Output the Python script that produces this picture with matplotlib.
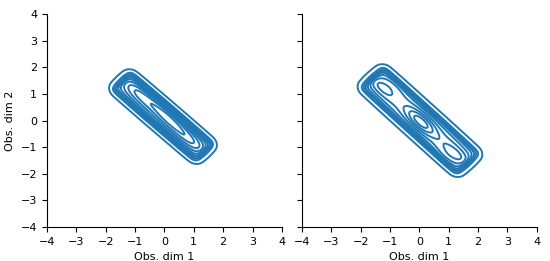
import numpy as np
import matplotlib.pyplot as plt

# shape of each density (data units)
centers = [(-0.05, 0.15), (0.02, 0.0)]
long_ends = [((-1.6, 1.62), (1.5, -1.32)), ((-1.72, 1.78), (1.8, -1.72))]
half_widths = [0.62, 0.72]
# inner bumps: (x, y, height)
bumps_left = [(-0.9, 1.05, 0.3), (-0.2, 0.45, 0.25), (0.3, -0.1, 0.3), (0.9, -0.75, 0.3)]
bumps_right = [(0.05, -0.05, 0.55), (-1.35, 1.3, 0.35), (-0.9, 1.45, 0.25),
               (1.3, -1.3, 0.35), (0.9, -1.45, 0.25)]
bumps = [bumps_left, bumps_right]

ticks = [-4, -3, -2, -1, 0, 1, 2, 3, 4]
color = "#1f77b4"


def density(X, Y, center, ends, hw, bmp):
    (x0, y0), (x1, y1) = ends
    u = np.array([x1 - x0, y1 - y0])
    half_len = np.linalg.norm(u) / 2
    u = u / np.linalg.norm(u)
    v = np.array([-u[1], u[0]])
    dx, dy = X - center[0], Y - center[1]
    a = dx * u[0] + dy * u[1]
    b = dx * v[0] + dy * v[1]
    sa, sb = 0.13, 0.12
    fa = 0.5 * (np.tanh((half_len - 1.5 * sa - np.abs(a)) / sa) + 1)
    fa = fa * (1 - 0.25 * (a / half_len) ** 2)
    fb = 0.5 * (np.tanh((hw - 1.5 * sb - np.abs(b)) / sb) + 1)
    fb = fb * (1 - 0.55 * (b / hw) ** 2)
    box = fa * fb
    f = box.copy()
    for bx, by, h in bmp:
        ba = (bx - center[0]) * u[0] + (by - center[1]) * u[1]
        bb = (bx - center[0]) * v[0] + (by - center[1]) * v[1]
        f += h * box * np.exp(-((a - ba) ** 2 / 0.45 + (b - bb) ** 2 / 0.07))
    return f


xs = np.linspace(-4, 4, 400)
X, Y = np.meshgrid(xs, xs)

fig = plt.figure(figsize=(5.5, 2.61), dpi=100)
ax1 = fig.add_axes([0.0855, 0.130, 0.427, 0.816])
ax2 = fig.add_axes([0.549, 0.130, 0.427, 0.816], sharey=ax1)

for i, ax in enumerate([ax1, ax2]):
    Z = density(X, Y, centers[i], long_ends[i], half_widths[i], bumps[i])
    levels = np.linspace(0.02, 0.93 * Z.max(), 10)
    ax.contour(X, Y, Z, levels=levels, colors=color, linewidths=1.4)
    ax.set_xlim(-4, 4)
    ax.set_ylim(-4, 4)
    ax.set_xticks(ticks)
    ax.set_yticks(ticks)
    ax.tick_params(labelsize=8)
    ax.set_xlabel("Obs. dim 1", fontsize=8)
    for sp in ["top", "right"]:
        ax.spines[sp].set_visible(False)

ax1.set_ylabel("Obs. dim 2", fontsize=8)
plt.setp(ax2.get_yticklabels(), visible=False)

fig.savefig("out.png", dpi=100)
